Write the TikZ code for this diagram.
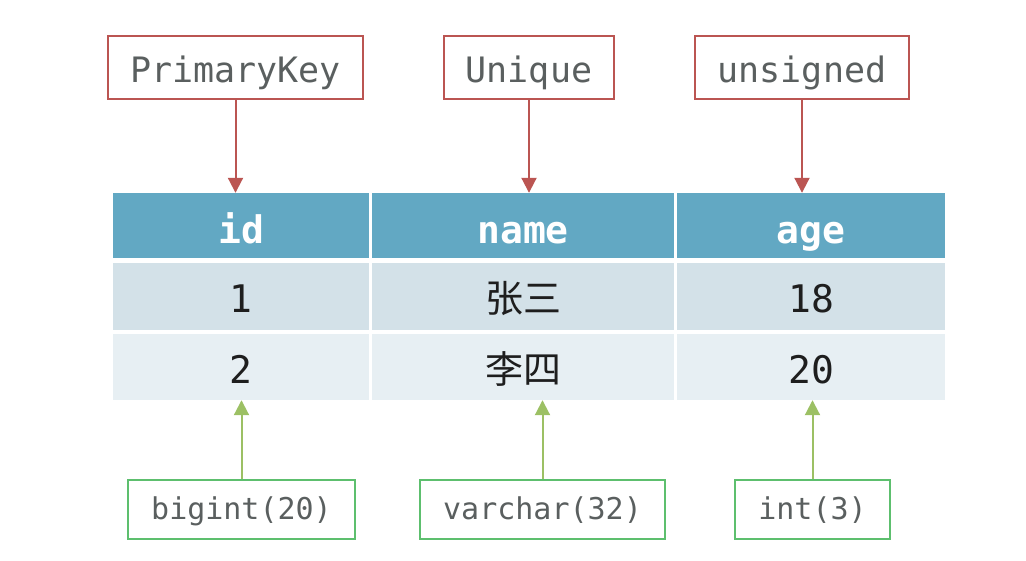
\documentclass[tikz,border=0pt]{standalone}
\usepackage{fontspec}
\setmonofont{DejaVu Sans Mono}
\newfontfamily\cjk{Noto Sans CJK SC}
\usetikzlibrary{arrows.meta}
\definecolor{hdr}{HTML}{62A8C3}
\definecolor{rowa}{HTML}{D3E1E8}
\definecolor{rowb}{HTML}{E7EFF3}
\definecolor{redc}{HTML}{BB5552}
\definecolor{grnb}{HTML}{5DBF6E}
\definecolor{grna}{HTML}{9CC064}
\definecolor{txtg}{HTML}{5A5F5F}
\definecolor{celltxt}{HTML}{1E1E1E}
\tikzset{
  cell/.style={rectangle, inner sep=0pt, draw=none},
  hcell/.style={cell, fill=hdr, text=white, font=\ttfamily\bfseries\fontsize{38}{44}\selectfont, minimum height=65pt, text height=40pt, text depth=5pt},
  acell/.style={cell, fill=rowa, text=celltxt, font=\ttfamily\fontsize{38}{44}\selectfont, minimum height=67pt, text height=36pt, text depth=4pt},
  bcell/.style={cell, fill=rowb, text=celltxt, font=\ttfamily\fontsize{38}{44}\selectfont, minimum height=66pt, text height=36pt, text depth=4pt},
  redbox/.style={rectangle, draw=redc, line width=2pt, fill=white, text=txtg, font=\ttfamily\fontsize{35}{40}\selectfont, minimum height=63pt, inner sep=0pt, text height=32pt, text depth=3pt},
  grnbox/.style={rectangle, draw=grnb, line width=2pt, fill=white, text=txtg, font=\ttfamily\fontsize{30}{35}\selectfont, minimum height=59pt, inner sep=0pt, text height=24pt, text depth=5pt},
  redarr/.style={draw=redc, line width=2pt, -{Triangle[length=15pt,width=15pt]}},
  grnarr/.style={draw=grna, line width=2pt, -{Triangle[length=15pt,width=15pt]}},
}
\begin{document}
\begin{tikzpicture}[x=1pt,y=-1pt]
\useasboundingbox (0,0) rectangle (1026,560);
% header
\node[hcell, minimum width=256pt] (hid) at (241,225.5) {id};
\node[hcell, minimum width=302pt] (hname) at (523,225.5) {name};
\node[hcell, minimum width=268pt] (hage) at (811,225.5) {age};
% row 1
\node[acell, minimum width=256pt] (aid) at (241,296.5) {1};
\node[acell, minimum width=302pt] (aname) at (523,296.5) {\cjk 张三};
\node[acell, minimum width=268pt] (aage) at (811,296.5) {18};
% row 2
\node[bcell, minimum width=256pt] (bid) at (241,367) {2};
\node[bcell, minimum width=302pt] (bname) at (523,367) {\cjk 李四};
\node[bcell, minimum width=268pt] (bage) at (811,367) {20};
% red boxes
\node[redbox, minimum width=255pt] (pk) at (235.5,67.5) {PrimaryKey};
\node[redbox, minimum width=170pt] (uq) at (529,67.5) {Unique};
\node[redbox, minimum width=214pt] (us) at (802,67.5) {unsigned};
% green boxes
\node[grnbox, minimum width=227pt] (bi) at (241.5,509.5) {bigint(20)};
\node[grnbox, minimum width=245pt] (vc) at (542.5,509.5) {varchar(32)};
\node[grnbox, minimum width=155pt] (it) at (812.5,509.5) {int(3)};
% arrows
\draw[redarr] (pk.south) -- (pk.south |- hid.north);
\draw[redarr] (uq.south) -- (uq.south |- hname.north);
\draw[redarr] (us.south) -- (us.south |- hage.north);
\draw[grnarr] (bi.north) -- (bi.north |- bid.south);
\draw[grnarr] (vc.north) -- (vc.north |- bname.south);
\draw[grnarr] (it.north) -- (it.north |- bage.south);
\end{tikzpicture}
\end{document}
